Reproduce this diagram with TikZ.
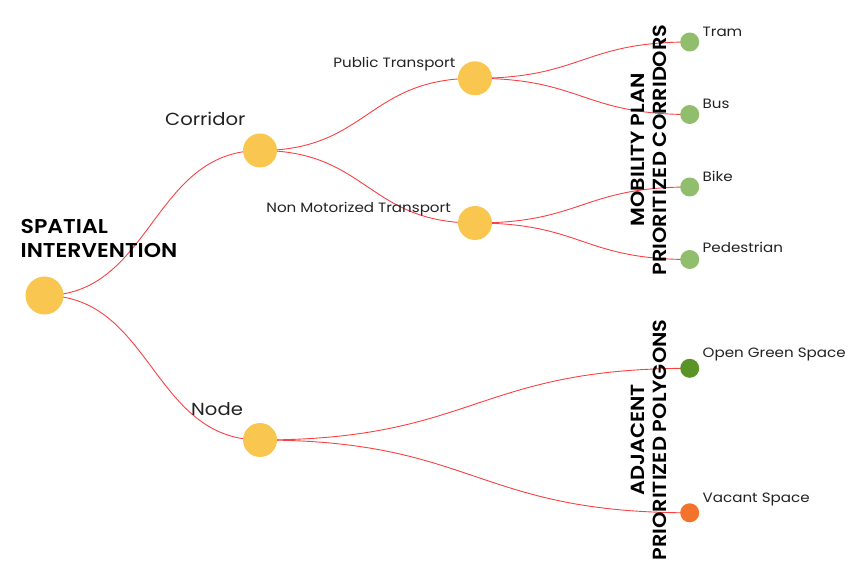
\documentclass[tikz,border=0pt]{standalone}
\usepackage{fontspec}
\setmainfont{Poppins}[FakeStretch=1.12, BoldFont={Poppins SemiBold}, BoldFeatures={FakeStretch=1.1}]
\usetikzlibrary{backgrounds}
\definecolor{cyellow}{HTML}{F9C74F}
\definecolor{clgreen}{HTML}{90BE6D}
\definecolor{cdgreen}{HTML}{5A9426}
\definecolor{corange}{HTML}{F3722C}
\definecolor{clink}{HTML}{F94144}
\definecolor{ctext}{HTML}{222222}
\tikzset{
  dot/.style={circle, inner sep=0pt, draw=none},
  bigdot/.style={dot, fill=cyellow, minimum size=38pt},
  middot/.style={dot, fill=cyellow, minimum size=34pt},
  leafdot/.style={dot, minimum size=19pt},
  link/.style={draw=clink, line width=0.9pt},
  lbl/.style={inner sep=0pt, text=ctext, font=\fontsize{13.5}{16}\selectfont},
  biglbl/.style={inner sep=0pt, text=ctext, font=\fontsize{17.5}{20}\selectfont},
  title/.style={inner sep=0pt, text=black, font=\bfseries\fontsize{20}{23.5}\selectfont, align=left},
  vtitle/.style={inner sep=0pt, text=black, rotate=90, align=center, font=\bfseries\fontsize{19}{22}\selectfont},
}
\begin{document}
\begin{tikzpicture}[x=1pt,y=-1pt]
\useasboundingbox (0,0) rectangle (854,585);
% nodes
\node[bigdot] (root) at (44.5,295.5) {};
\node[middot] (cor) at (260,150.5) {};
\node[middot] (nod) at (260,440) {};
\node[middot] (pub) at (475,78.3) {};
\node[middot] (nmt) at (475,223) {};
\node[leafdot, fill=clgreen] (tram) at (689.7,42) {};
\node[leafdot, fill=clgreen] (bus) at (689.7,114.5) {};
\node[leafdot, fill=clgreen] (bike) at (689.7,187) {};
\node[leafdot, fill=clgreen] (ped) at (689.7,259.5) {};
\node[leafdot, fill=cdgreen] (ogs) at (689.7,368.3) {};
\node[leafdot, fill=corange] (vac) at (689.7,512.8) {};
% links
\begin{pgfonlayer}{background}
\draw[link] (root.center) .. controls (152,295.5) and (152,150.5) .. (cor.center);
\draw[link] (root.center) .. controls (152,295.5) and (152,440) .. (nod.center);
\draw[link] (cor.center) .. controls (367.5,150.5) and (367.5,78.3) .. (pub.center);
\draw[link] (cor.center) .. controls (367.5,150.5) and (367.5,223) .. (nmt.center);
\draw[link] (pub.center) .. controls (582,78.3) and (582,42) .. (tram.center);
\draw[link] (pub.center) .. controls (582,78.3) and (582,114.5) .. (bus.center);
\draw[link] (nmt.center) .. controls (582,223) and (582,187) .. (bike.center);
\draw[link] (nmt.center) .. controls (582,223) and (582,259.5) .. (ped.center);
\draw[link] (nod.center) .. controls (475,440) and (475,368.3) .. (ogs.center);
\draw[link] (nod.center) .. controls (475,440) and (475,512.8) .. (vac.center);
\end{pgfonlayer}
% labels
\node[title, anchor=base west] (t1) at (20.5,234) {SPATIAL};
\node[title, anchor=base west] (t2) at (20.5,257.5) {INTERVENTION};
\node[biglbl, anchor=base west] (lcor) at (165,126) {Corridor};
\node[biglbl, anchor=base west] (lnod) at (191,415) {Node};
\node[lbl, anchor=base east] (lpub) at (455.5,67.5) {Public Transport};
\node[lbl, anchor=base east] (lnmt) at (451,212.7) {Non Motorized Transport};
\node[lbl, anchor=base west] (ltram) at (702.5,36.5) {Tram};
\node[lbl, anchor=base west] (lbus) at (702.5,109) {Bus};
\node[lbl, anchor=base west] (lbike) at (702.5,181.5) {Bike};
\node[lbl, anchor=base west] (lped) at (702.5,253) {Pedestrian};
\node[lbl, anchor=base west] (logs) at (702.5,357.5) {Open Green Space};
\node[lbl, anchor=base west] (lvac) at (702.5,502.5) {Vacant Space};
\node[vtitle] (v1) at (648.5,150) {MOBILITY PLAN\\PRIORITIZED CORRIDORS};
\node[vtitle] (v2) at (648.5,440) {ADJACENT\\PRIORITIZED POLYGONS};
\end{tikzpicture}
\end{document}
